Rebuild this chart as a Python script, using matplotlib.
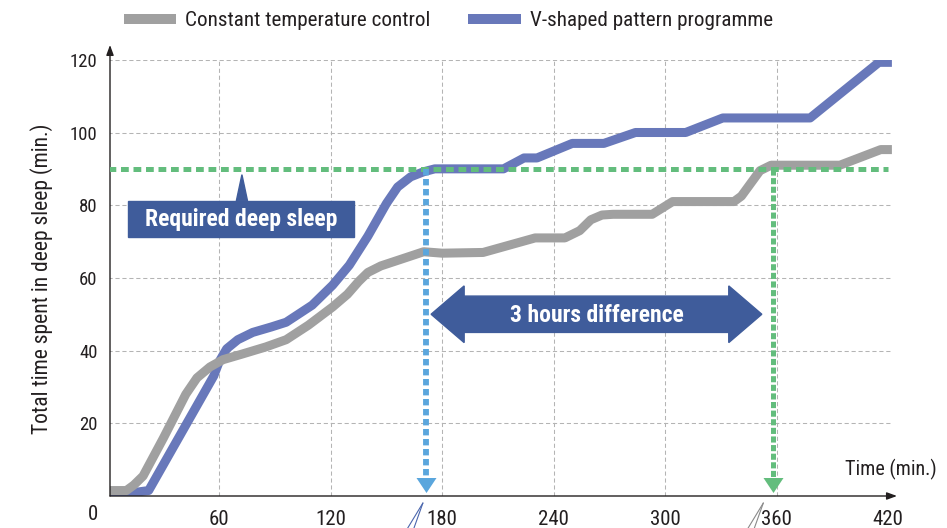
import matplotlib
matplotlib.use("Agg")
import matplotlib.pyplot as plt
from matplotlib.lines import Line2D
from matplotlib.patches import Rectangle, Polygon
from matplotlib.transforms import offset_copy

plt.rcParams['font.family'] = ['Roboto Condensed', 'DejaVu Sans']
plt.rcParams['lines.scale_dashes'] = False

# 恒温控制
const_x = [0, 10, 14, 19, 30, 42, 48, 55, 62, 72, 85, 96, 108, 121, 129, 135, 140, 147,
           160, 170, 180, 202, 230, 246, 254, 260, 266, 272, 293, 304, 337, 341, 351,
           357, 394, 416, 422]
const_y = [1.5, 1.5, 3, 5.5, 16, 28, 32.5, 35.5, 37.5, 39, 41, 43, 47, 52, 55.5, 59, 61.5, 63.3,
           65.5, 67.2, 66.8, 67, 71, 71, 73, 76, 77.3, 77.5, 77.5, 81, 81, 82.5, 89.5,
           91, 91, 95.3, 95.3]

# V字型模式
vshape_x = [0, 12, 22, 57, 60, 64, 70, 78, 88, 96, 110, 121, 130, 140, 150, 156, 163, 170, 176,
            213, 224, 231, 250, 267, 284, 311, 331, 378, 415, 422]
vshape_y = [0.8, 0.8, 1.5, 33, 37, 40.5, 43, 45, 46.5, 47.8, 52.5, 58, 63.5, 71.5, 80.5, 85, 87.8,
            89.2, 90, 90, 93, 93, 97, 97, 100, 100, 104, 104, 119.3, 119.3]

labels = ['Constant temperature control', 'V-shaped pattern programme']
x_ticks = [60, 120, 180, 240, 300, 360, 420]
y_ticks = [20, 40, 60, 80, 100, 120]
grid_x = [60, 120, 180, 240, 300, 360]

required = 90          # 所需深睡眠
reach_vshape = 171     # V字型达到时间
reach_const = 358      # 恒温达到时间
diff_y = 50
diff_left, diff_right = 174, 352

c_gray = '#a0a0a0'
c_blue = '#6878ba'
c_dark = '#3f5c9b'
c_green = '#63bd7d'
c_sky = '#5aa6dd'
c_text = '#231f20'

fig = plt.figure(figsize=(9.47, 5.28), dpi=100)
ax = fig.add_axes([110 / 947, 32 / 528, 781.9 / 947, 436.2 / 528])
ax.set_xlim(1.2, 422)
ax.set_ylim(0, 120)

# 网格
ax.vlines(grid_x, 0, 120, colors='#b4b4b4', lw=0.75, linestyles=(0, (3, 2)), zorder=0)
ax.hlines(y_ticks, 0, 422, colors='#b4b4b4', lw=0.75, linestyles=(0, (3, 2)), zorder=0)

ax.plot(vshape_x, vshape_y, color=c_blue, lw=6.5, solid_joinstyle='round',
        solid_capstyle='butt', zorder=2)
ax.plot(const_x, const_y, color=c_gray, lw=6.5, solid_joinstyle='round',
        solid_capstyle='butt', zorder=3)

# 目标线
ax.plot([0, 420], [required, required], color=c_green, lw=3.6,
        dashes=(5.6, 3.4), solid_capstyle='butt', zorder=4)

tri = [(-1, 0.75), (1, 0.75), (0, -0.75)]
ax.plot([reach_vshape, reach_vshape], [required, 5], color=c_sky, lw=4.2,
        dashes=(4.6, 2.6), zorder=5)
ax.plot([reach_vshape], [2.9], marker=tri, ms=14.4, color=c_sky, mew=0, zorder=5,
        clip_on=False)
ax.plot([reach_const, reach_const], [required, 5], color=c_green, lw=3.6,
        dashes=(4.4, 1.8), zorder=5)
ax.plot([reach_const], [2.9], marker=tri, ms=14.4, color=c_green, mew=0, zorder=5,
        clip_on=False)

# Required deep sleep 标签
ax.add_patch(Rectangle((10.9, 71.3), 121.6, 9.9, color=c_dark, zorder=6))
ax.add_patch(Polygon([(69.2, 81.2), (75.2, 81.2), (72.2, 88.4)], closed=True,
                     color=c_dark, zorder=6))
ax.text(71.7, 76.2, 'Required deep sleep', color='white', fontsize=17, fontweight='bold',
        ha='center', va='center', zorder=7)

# 双向箭头
hl, bh, hh = 17.8, 5.0, 7.8
ax.add_patch(Polygon([(diff_left, diff_y), (diff_left + hl, diff_y + hh),
                      (diff_left + hl, diff_y + bh), (diff_right - hl, diff_y + bh),
                      (diff_right - hl, diff_y + hh), (diff_right, diff_y),
                      (diff_right - hl, diff_y - hh), (diff_right - hl, diff_y - bh),
                      (diff_left + hl, diff_y - bh), (diff_left + hl, diff_y - hh)],
                     closed=True, color=c_dark, zorder=6))
ax.text((diff_left + diff_right) / 2, diff_y - 0.3, '3 hours difference', color='white',
        fontsize=17, fontweight='bold', ha='center', va='center', zorder=7)

# 坐标轴
for s in ax.spines.values():
    s.set_visible(False)
ax.annotate('', xy=(0, 1.034), xycoords='axes fraction', xytext=(0, 0),
            arrowprops=dict(arrowstyle='-|>,head_length=0.6,head_width=0.22',
                            mutation_scale=10, color=c_text, lw=1.0,
                            shrinkA=0, shrinkB=0))
ax.annotate('', xy=(1.0065, 0), xycoords='axes fraction', xytext=(0, 0),
            arrowprops=dict(arrowstyle='-|>,head_length=0.6,head_width=0.22',
                            mutation_scale=10, color=c_text, lw=1.0,
                            shrinkA=0, shrinkB=0))

ax.set_xticks(x_ticks)
ax.set_yticks(y_ticks)
ax.tick_params(axis='x', length=0, pad=10, labelsize=15, labelcolor=c_text)
ax.tick_params(axis='y', length=0, pad=9, labelsize=13.5, labelcolor=c_text)
ax.annotate('0', xy=(0, 0), xycoords='data', xytext=(-15, -18), textcoords='offset pixels',
            ha='center', va='center', fontsize=15, color=c_text, annotation_clip=False)

fig.text(42 / 947, 1 - 279 / 528, 'Total time spent in deep sleep (min.)', rotation=90,
         ha='center', va='center', fontsize=15.5, color=c_text)
ax.text(1.0577, 0.06, 'Time (min.)', transform=ax.transAxes, ha='right', va='center',
        fontsize=14.5, color=c_text)


# 轴断裂符号
def break_mark(xv, color):
    base = offset_copy(ax.transData, fig=fig, x=0, y=-7, units='dots')
    for dx in (-17, -10):
        ax.annotate('', xy=(xv, 0), xycoords=base, xytext=(dx, -28),
                    textcoords='offset pixels', annotation_clip=False,
                    arrowprops=dict(arrowstyle='-', color=color, lw=0.8,
                                    shrinkA=0, shrinkB=0))


break_mark(169.6, '#4a66ad')
break_mark(352.8, '#8a8a8a')

handles = [Line2D([], [], color=c_gray, lw=7.2, solid_capstyle='butt'),
           Line2D([], [], color=c_blue, lw=7.2, solid_capstyle='butt')]
fig.legend(handles, labels, loc='center left', bbox_to_anchor=(113 / 947, 1 - 21 / 528),
           ncol=2, frameon=False, fontsize=15.2, handlelength=2.5, handletextpad=0.43,
           columnspacing=1.78, borderpad=0, labelcolor=c_text)

fig.savefig('out.png', dpi=100)
